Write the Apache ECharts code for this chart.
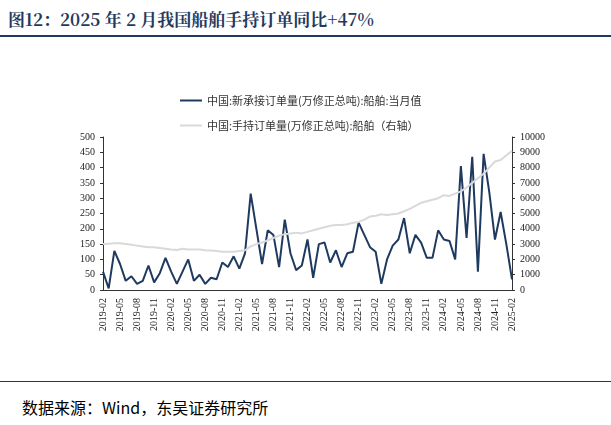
<!DOCTYPE html><html><head><meta charset="utf-8"><script src="https://cdn.jsdelivr.net/npm/echarts@6/dist/echarts.min.js"></script>
<style>body{margin:0;background:#fff}#t{position:absolute;left:8px;top:6px;font:bold 17px "Noto Serif CJK SC","Noto Sans CJK SC",serif;color:#1f3a5f}
#l1{position:absolute;left:0;top:35px;width:611px;border-top:2px solid #1f3a5f}
#l2{position:absolute;left:0;top:381px;width:611px;border-top:1px solid #333}
#f{position:absolute;left:22px;top:395px;font:16px "Noto Sans CJK SC",serif;color:#000}
#c{position:absolute;left:0;top:40px;width:611px;height:340px}</style></head><body>
<div id="t">图12：2025 年 2 月我国船舶手持订单同比+47%</div><div id="l1"></div>
<div id="c"></div><div id="l2"></div><div id="f">数据来源：Wind，东吴证券研究所</div>
<script>
const categories=[];for(let y=2019;y<=2025;y++)for(let m=1;m<=12;m++){if((y==2019&&m<2)||(y==2025&&m>2))continue;categories.push(y+'-'+String(m).padStart(2,'0'));}
const newOrders=[60,5,128,85,30,45,20,30,80,25,55,105,60,20,60,100,30,50,20,40,35,90,75,110,70,120,315,200,85,195,180,75,230,120,65,80,165,40,150,155,90,130,75,120,125,220,180,140,125,20,100,145,165,235,120,180,155,105,105,195,165,160,100,405,170,435,60,445,320,165,255,150,35];
const handOrders=[3000,3020,3050,3050,3000,2950,2900,2850,2800,2800,2750,2700,2650,2620,2700,2650,2650,2650,2600,2580,2550,2500,2500,2500,2550,2600,2850,3000,3100,3250,3400,3550,3650,3700,3750,3700,3800,3900,4000,4100,4200,4250,4250,4300,4400,4450,4600,4800,4850,4950,4900,4950,5000,5150,5300,5500,5700,5800,5900,6000,6200,6150,6300,6450,6700,7000,7300,7600,8000,8400,8500,8800,9100];
const names=['中国:新承接订单量(万修正总吨):船舶:当月值','中国:手持订单量(万修正总吨):船舶（右轴）'];
const c=echarts.init(document.getElementById('c'));
const ax={axisLine:{show:true,lineStyle:{color:'#333'}},axisTick:{show:true,inside:false,length:3},splitLine:{show:false},axisLabel:{fontFamily:'Liberation Serif',fontSize:10,color:'#222',formatter:v=>String(v)}};
c.setOption({animation:false,
legend:{orient:'vertical',left:175,top:50,itemGap:14,itemWidth:22,itemHeight:2,textStyle:{fontFamily:'Noto Sans CJK SC',fontSize:11,color:'#333'},data:[{name:names[0],icon:'rect'},{name:names[1],icon:'rect'}]},
grid:{left:103,right:99,top:97,bottom:90},
xAxis:{type:'category',boundaryGap:false,data:categories,axisLine:{lineStyle:{color:'#333'}},axisTick:{show:false},axisLabel:{rotate:90,interval:2,fontFamily:'Liberation Serif',fontSize:10,color:'#222'}},
yAxis:[Object.assign({type:'value',min:0,max:500,interval:50},ax),Object.assign({type:'value',min:0,max:10000,interval:1000},ax)],
series:[{name:names[0],type:'line',data:newOrders,symbol:'none',lineStyle:{color:'#1f3a5f',width:2},itemStyle:{color:'#1f3a5f'},z:3},
{name:names[1],type:'line',yAxisIndex:1,data:handOrders,symbol:'none',lineStyle:{color:'#d9d9d9',width:2},itemStyle:{color:'#d9d9d9'}}]});
</script></body></html>
